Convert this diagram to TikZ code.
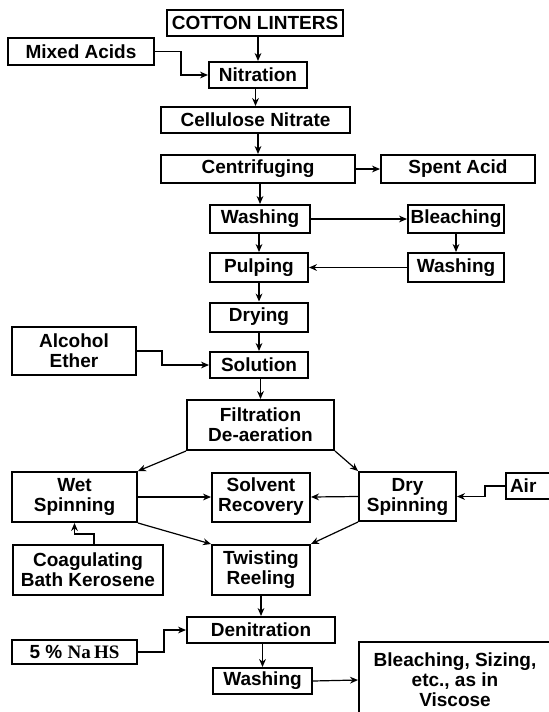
\documentclass[tikz,border=0pt]{standalone}
\usepackage{fontspec}
\usetikzlibrary{arrows.meta}
\setmainfont{Liberation Sans}
\newfontfamily\chemfont{Liberation Serif}
\begin{document}
\begin{tikzpicture}[x=0.5pt, y=-0.5pt,
        box/.style={draw, line width=1pt, inner sep=0pt, align=center,
            font=\bfseries\fontsize{9.5}{10}\selectfont},
        flow/.style={-{Stealth[length=4pt, width=3.4pt]}, line width=0.6pt}]
            \clip (0,0) rectangle (549,712);
            \node [box, minimum width=88pt, minimum height=13pt] (cotton) at (255,23) {COTTON LINTERS};
            \node [box, minimum width=73pt, minimum height=13.5pt] (mixed) at (81,51.5) {Mixed Acids};
            \node [box, minimum width=49pt, minimum height=13pt] (nitration) at (258,75) {Nitration};
            \node [box, minimum width=94.5pt, minimum height=13pt] (cellulose) at (255.5,120) {Cellulose Nitrate};
            \node [box, minimum width=97pt, minimum height=14pt] (centrifuging) at (258,169) {Centrifuging};
            \node [box, minimum width=77pt, minimum height=14pt] (spent) at (458,169) {Spent Acid};
            \node [box, minimum width=50pt, minimum height=14pt] (wash) at (260,219) {Washing};
            \node [box, minimum width=48pt, minimum height=14pt] (bleaching) at (456,219) {Bleaching};
            \node [box, minimum width=49pt, minimum height=14.5pt] (pulping) at (259,267.5) {Pulping};
            \node [box, minimum width=48pt, minimum height=14.5pt] (rewash) at (456,267.5) {Washing};
            \node [box, minimum width=49pt, minimum height=14.5pt] (drying) at (259,317) {Drying};
            \node [box, minimum width=62pt, minimum height=24pt] (alcohol) at (74,351) {Alcohol\\Ether};
            \node [box, minimum width=49pt, minimum height=13pt] (solution) at (259,365) {Solution};
            \node [box, minimum width=73.5pt, minimum height=25pt] (filtration) at (260.5,425) {Filtration\\De-aeration};
            \node [box, minimum width=62.5pt, minimum height=25pt] (wet) at (74.5,497) {Wet\\Spinning};
            \node [box, minimum width=49pt, minimum height=24.5pt] (solvent) at (261,497) {Solvent\\Recovery};
            \node [box, minimum width=48.5pt, minimum height=24.5pt] (dry) at (407.5,496.5) {Dry\\Spinning};
            \node [box, anchor=north west, text width=32pt, align=left, inner xsep=2pt, minimum height=13pt] (air) at (505,472) {Air};
            \node [box, minimum width=75pt, minimum height=25pt] (coag) at (88,570) {Coagulating\\Bath Kerosene};
            \node [box, minimum width=49pt, minimum height=25pt] (twisting) at (261,570) {Twisting\\Reeling};
            \node [box, minimum width=74pt, minimum height=13pt] (denitration) at (261,630) {Denitration};
            \node [box, minimum width=62.5pt, minimum height=12pt] (nahs) at (74.5,652) {5 \% {\chemfont Na\,HS}};
            \node [box, minimum width=49.5pt, minimum height=13pt] (washfinal) at (262.5,681) {Washing};
            \node [box, minimum width=96pt, minimum height=38pt] (viscose) at (455,680) {Bleaching, Sizing,\\etc., as in\\Viscose};
            \foreach \a/\b in {cotton/nitration, nitration/cellulose, cellulose/centrifuging,
                    centrifuging/wash, wash/pulping, pulping/drying, drying/solution,
                    solution/filtration, twisting/denitration, denitration/washfinal}
                \draw [flow] (\b.north |- \a.south) -- (\b.north);
            \draw [flow] (mixed.east) -- ++(26,0) |- (nitration.west);
            \draw [flow] (centrifuging.east) -- (spent.west);
            \draw [flow] (wash.east) -- (bleaching.west);
            \draw [flow] (bleaching) -- (rewash);
            \draw [flow] (rewash.west) -- (pulping.east);
            \draw [flow] (alcohol.east) -- ++(25,0) |- (solution.west);
            \draw [flow] (filtration.south west) -- (wet.north east);
            \draw [flow] (filtration.south east) -- (dry.north west);
            \draw [flow] (wet.east) -- (solvent.west);
            \draw [flow] (dry.west) -- (solvent.east);
            \draw [flow] (air.west) -- ++(-20,0) |- (dry.east);
            \draw [flow] ([xshift=3pt]coag.north) -- ++(0,-10) -| (wet.south);
            \draw [flow] (wet.south east) -- (twisting.north west);
            \draw [flow] (dry.south west) -- (twisting.north east);
            \draw [flow] (nahs.east) -- ++(26,0) |- (denitration.west);
            \draw [flow] (washfinal.east) -- (viscose.west);
        \end{tikzpicture}
\end{document}
